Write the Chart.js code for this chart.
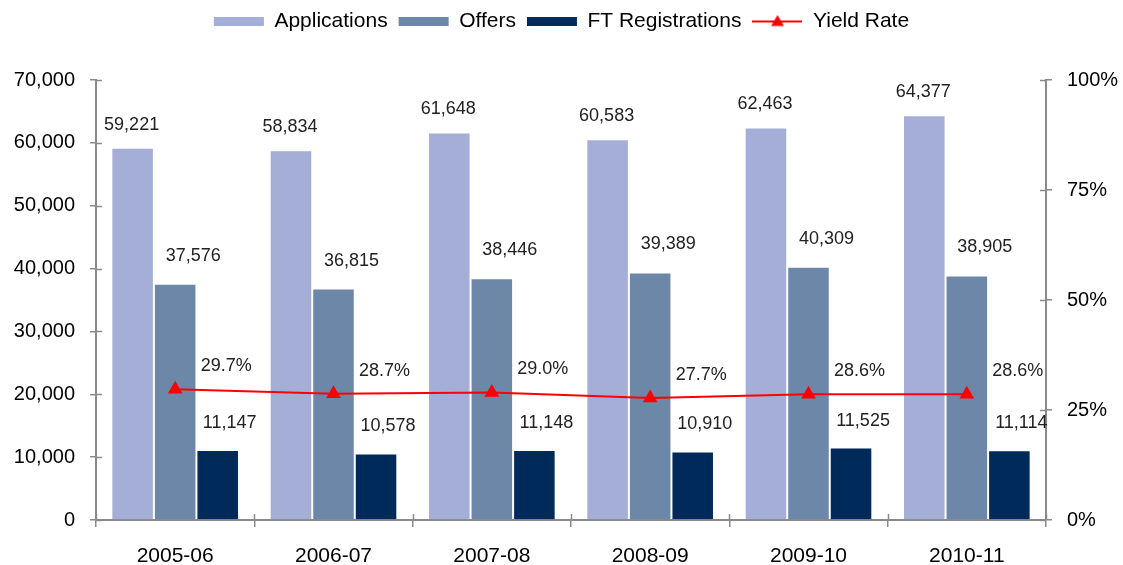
<!DOCTYPE html>
<html>
<head>
<meta charset="utf-8">
<script src="https://cdn.jsdelivr.net/npm/chart.js@4.4.0/dist/chart.umd.min.js"></script>
<style>
body { margin: 0; background: #fff; }
#grafico { display: block; }
</style>
</head>
<body>
<canvas id="grafico" width="1123" height="565"></canvas>
<script>
var anos = ['2005-06', '2006-07', '2007-08', '2008-09', '2009-10', '2010-11']
var applications = [59221, 58834, 61648, 60583, 62463, 64377]
var offers = [37576, 36815, 38446, 39389, 40309, 38905]
var registrations = [11147, 10578, 11148, 10910, 11525, 11114]
var yieldRate = [29.7, 28.7, 29.0, 27.7, 28.6, 28.6]

var ticksEsquerda = [0, 10000, 20000, 30000, 40000, 50000, 60000, 70000]
var ticksDireita = [0, 25, 50, 75, 100]

var fonte = '"Liberation Sans", Arial, sans-serif'
var corEixo = '#8a8a8a'

// deslocamento dos rotulos de cada serie (em pixels, relativo ao topo da barra / ponto)
var deslocRotulo = [
    {dx: -1, dy: -23},
    {dx: 18, dy: -28},
    {dx: 12, dy: -27},
    {dx: 51, dy: -23}
]

function formatar(v) {
    return v.toLocaleString('en-US')
}

// simbolo da legenda do Yield Rate: linha com triangulo
function simboloLinha() {
    var c = document.createElement('canvas')
    c.width = 50
    c.height = 16
    var g = c.getContext('2d')
    g.strokeStyle = '#ff0000'
    g.lineWidth = 2
    g.beginPath()
    g.moveTo(0, 8)
    g.lineTo(50, 8)
    g.stroke()
    g.fillStyle = '#ff0000'
    g.beginPath()
    g.moveTo(25, 1.5)
    g.lineTo(31.5, 12.5)
    g.lineTo(18.5, 12.5)
    g.closePath()
    g.fill()
    return c
}
var iconeYield = simboloLinha()

var alturaLegenda = {
    id: 'alturaLegenda',
    beforeInit: function(chart) {
        var fitOriginal = chart.legend.fit
        chart.legend.fit = function() {
            fitOriginal.bind(chart.legend)()
            this.height = 80
        }
    }
}

var rotulosDados = {
    id: 'rotulosDados',
    afterDatasetsDraw: function(chart) {
        var ctx = chart.ctx
        ctx.save()
        ctx.font = '18px ' + fonte
        ctx.fillStyle = '#222'
        ctx.textAlign = 'center'
        ctx.textBaseline = 'middle'
        chart.data.datasets.forEach(function(ds, i) {
            var meta = chart.getDatasetMeta(i)
            meta.data.forEach(function(el, j) {
                var txt = i == 3 ? ds.data[j].toFixed(1) + '%' : formatar(ds.data[j])
                ctx.fillText(txt, el.x + deslocRotulo[i].dx, el.y + deslocRotulo[i].dy)
            })
        })
        ctx.restore()
    }
}

// marcas dos eixos cruzando para dentro da area do grafico
var marcasInternas = {
    id: 'marcasInternas',
    afterDatasetsDraw: function(chart) {
        var ctx = chart.ctx
        var area = chart.chartArea
        ctx.save()
        ctx.strokeStyle = corEixo
        ctx.lineWidth = 1.5
        ctx.beginPath()
        var esq = chart.scales.y
        esq.ticks.forEach(function(t) {
            var y = Math.round(esq.getPixelForValue(t.value)) + 0.5
            ctx.moveTo(area.left, y)
            ctx.lineTo(area.left + 6, y)
        })
        var dir = chart.scales.y1
        dir.ticks.forEach(function(t) {
            var y = Math.round(dir.getPixelForValue(t.value)) + 0.5
            ctx.moveTo(area.right, y)
            ctx.lineTo(area.right - 6, y)
        })
        var largura = (area.right - area.left) / anos.length
        for (var k = 0; k <= anos.length; k++) {
            var x = Math.round(area.left + k * largura) + 0.5
            ctx.moveTo(x, area.bottom)
            ctx.lineTo(x, area.bottom - 6)
        }
        ctx.stroke()
        ctx.restore()
    }
}

var ctx = document.getElementById('grafico').getContext('2d')
var grafico = new Chart(ctx, {
    type: 'bar',
    data: {
        labels: anos,
        datasets: [
            {
                label: 'Applications',
                data: applications,
                backgroundColor: '#a5aed6',
                borderColor: 'rgba(255,255,255,0.35)',
                borderWidth: 1,
                borderSkipped: 'bottom',
                yAxisID: 'y',
                order: 1
            },
            {
                label: 'Offers',
                data: offers,
                backgroundColor: '#6c87a8',
                borderColor: 'rgba(255,255,255,0.35)',
                borderWidth: 1,
                borderSkipped: 'bottom',
                yAxisID: 'y',
                order: 1
            },
            {
                label: 'FT Registrations',
                data: registrations,
                backgroundColor: '#002a5a',
                borderColor: 'rgba(255,255,255,0.35)',
                borderWidth: 1,
                borderSkipped: 'bottom',
                yAxisID: 'y',
                order: 1
            },
            {
                type: 'line',
                label: 'Yield Rate',
                data: yieldRate,
                borderColor: '#ff0000',
                backgroundColor: '#ff0000',
                borderWidth: 2,
                pointStyle: 'triangle',
                pointRadius: 6.5,
                pointHoverRadius: 6.5,
                tension: 0,
                yAxisID: 'y1',
                order: 0
            }
        ]
    },
    options: {
        responsive: false,
        animation: false,
        layout: { padding: 0 },
        datasets: {
            bar: { categoryPercentage: 0.806, barPercentage: 1.0 }
        },
        scales: {
            x: {
                grid: { display: true, drawOnChartArea: false, drawTicks: true, tickLength: 7, color: corEixo, lineWidth: 1.5 },
                border: { display: true, color: corEixo, width: 2 },
                ticks: { color: '#000', padding: 17, font: { family: fonte, size: 21 } },
                afterFit: function(scale) { scale.height = 45 }
            },
            y: {
                position: 'left',
                min: 0,
                max: 70000,
                grid: { display: true, drawOnChartArea: false, drawTicks: true, tickLength: 6, color: corEixo, lineWidth: 1.5 },
                border: { display: true, color: corEixo, width: 2 },
                afterBuildTicks: function(scale) {
                    scale.ticks = ticksEsquerda.map(function(v) { return { value: v } })
                },
                ticks: {
                    color: '#000',
                    padding: 15,
                    font: { family: fonte, size: 20 },
                    callback: function(v) { return formatar(v) }
                },
                afterFit: function(scale) { scale.width = 96 }
            },
            y1: {
                position: 'right',
                min: 0,
                max: 100,
                grid: { display: true, drawOnChartArea: false, drawTicks: true, tickLength: 6, color: corEixo, lineWidth: 1.5 },
                border: { display: true, color: corEixo, width: 2 },
                afterBuildTicks: function(scale) {
                    scale.ticks = ticksDireita.map(function(v) { return { value: v } })
                },
                ticks: {
                    color: '#000',
                    padding: 15,
                    font: { family: fonte, size: 20 },
                    callback: function(v) { return v + '%' }
                },
                afterFit: function(scale) { scale.width = 77 }
            }
        },
        plugins: {
            tooltip: { enabled: false },
            legend: {
                position: 'top',
                labels: {
                    usePointStyle: true,
                    pointStyleWidth: 50,
                    boxWidth: 50,
                    boxHeight: 9,
                    padding: 11,
                    color: '#000',
                    font: { family: fonte, size: 21 },
                    sort: function(a, b) { return a.datasetIndex - b.datasetIndex },
                    generateLabels: function(chart) {
                        var itens = Chart.defaults.plugins.legend.labels.generateLabels(chart)
                        itens.forEach(function(item) {
                            item.lineWidth = 0
                            item.strokeStyle = 'rgba(0,0,0,0)'
                            if (item.datasetIndex == 3) {
                                item.pointStyle = iconeYield
                            } else {
                                item.pointStyle = 'rect'
                            }
                        })
                        return itens
                    }
                }
            }
        }
    },
    plugins: [alturaLegenda, rotulosDados, marcasInternas]
})
</script>
</body>
</html>
